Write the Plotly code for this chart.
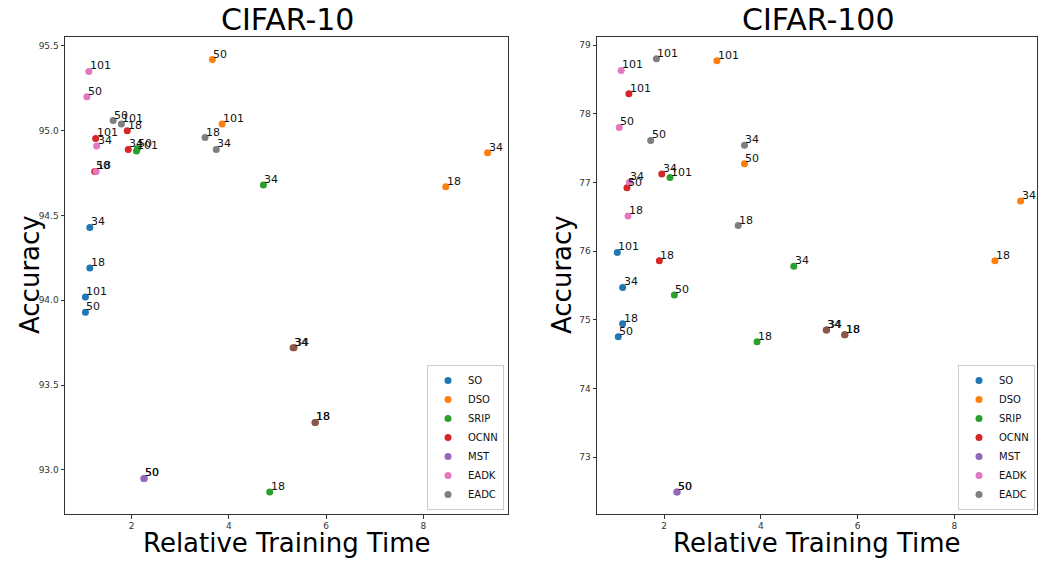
import plotly.graph_objects as go

# ---------------- data ----------------
methods = ["SO", "DSO", "SRIP", "OCNN", "MST", "EADK", "EADC"]
colors = {"SO": "#1f77b4", "DSO": "#ff7f0e", "SRIP": "#2ca02c", "OCNN": "#d62728",
          "MST": "#9467bd", "EXTRA": "#8c564b", "EADK": "#e377c2", "EADC": "#7f7f7f"}

# CIFAR-10: relative training time, accuracy, depth label
c10_time = {
    "SO":   [1.14, 1.14, 1.05, 1.05],
    "DSO":  [8.46, 9.32, 3.66, 3.86],
    "SRIP": [4.84, 4.71, 2.12, 2.10],
    "OCNN": [1.91, 1.93, 1.24, 1.26],
    "MST":  [2.25, 2.26],
    "EXTRA": [5.32, 5.34, 5.77, 5.78],
    "EADK": [1.27, 1.28, 1.08, 1.12],
    "EADC": [3.51, 3.74, 1.62, 1.79],
}
c10_acc = {
    "SO":   [94.19, 94.43, 93.93, 94.02],
    "DSO":  [94.67, 94.87, 95.42, 95.04],
    "SRIP": [92.87, 94.68, 94.895, 94.88],
    "OCNN": [95.00, 94.89, 94.76, 94.955],
    "MST":  [92.95, 92.95],
    "EXTRA": [93.72, 93.72, 93.28, 93.28],
    "EADK": [94.76, 94.91, 95.20, 95.35],
    "EADC": [94.96, 94.89, 95.06, 95.04],
}
c10_depth = {
    "SO":   ["18", "34", "50", "101"],
    "DSO":  ["18", "34", "50", "101"],
    "SRIP": ["18", "34", "50", "101"],
    "OCNN": ["18", "34", "50", "101"],
    "MST":  ["50", "50"],
    "EXTRA": ["34", "34", "18", "18"],
    "EADK": ["18", "34", "50", "101"],
    "EADC": ["18", "34", "50", "101"],
}

# CIFAR-100
c100_time = {
    "SO":   [1.14, 1.14, 1.05, 1.03],
    "DSO":  [8.84, 9.37, 3.66, 3.09],
    "SRIP": [3.92, 4.68, 2.21, 2.12],
    "OCNN": [1.90, 1.95, 1.23, 1.27],
    "MST":  [2.26, 2.27],
    "EXTRA": [5.35, 5.36, 5.73, 5.74],
    "EADK": [1.25, 1.28, 1.07, 1.11],
    "EADC": [3.53, 3.66, 1.72, 1.84],
}
c100_acc = {
    "SO":   [74.94, 75.47, 74.75, 75.98],
    "DSO":  [75.86, 76.73, 77.27, 78.77],
    "SRIP": [74.68, 75.78, 75.36, 77.07],
    "OCNN": [75.86, 77.12, 76.92, 78.29],
    "MST":  [72.49, 72.49],
    "EXTRA": [74.85, 74.85, 74.78, 74.78],
    "EADK": [76.51, 77.00, 77.80, 78.63],
    "EADC": [76.37, 77.54, 77.61, 78.80],
}
c100_depth = c10_depth

titles = ["CIFAR-10", "CIFAR-100"]
x_label = "Relative Training Time"
y_label = "Accuracy"

# ---------------- figure ----------------
FONT = "DejaVu Sans"
fig = go.Figure()
annotations = []

plot_order = ["SO", "DSO", "SRIP", "OCNN", "MST", "EXTRA", "EADK", "EADC"]
panels = [("x", "y", "legend", c10_time, c10_acc, c10_depth),
          ("x2", "y2", "legend2", c100_time, c100_acc, c100_depth)]

for xa, ya, leg, T, A, D in panels:
    for m in plot_order:
        fig.add_trace(go.Scatter(
            x=T[m], y=A[m], mode="markers", name=m,
            marker=dict(color=colors[m], size=7, line=dict(width=0)),
            xaxis=xa, yaxis=ya, legend=leg,
            showlegend=(m in methods),
            hoverinfo="skip",
        ))
        for xv, yv, lab in zip(T[m], A[m], D[m]):
            annotations.append(dict(
                x=xv, y=yv, xref=xa, yref=ya, text=lab, showarrow=False,
                xanchor="left", yanchor="bottom", yshift=-3, xshift=-1,
                font=dict(family=FONT, size=11, color="#111"),
            ))

dom_y = [1 - 514 / 561, 1 - 37 / 561]
dom_x1 = [65 / 1039, 508 / 1039]
dom_x2 = [597 / 1039, 1037 / 1039]

axis_common = dict(showgrid=False, zeroline=False, showline=True, mirror=True,
                   linecolor="#333", linewidth=1, ticks="outside", ticklen=3.5,
                   tickcolor="#333", tickfont=dict(family=FONT, size=9, color="#333"))

fig.update_layout(
    xaxis=dict(domain=dom_x1, anchor="y", range=[0.63, 9.74], tick0=0, dtick=2, **axis_common),
    yaxis=dict(domain=dom_y, anchor="x", range=[92.74, 95.553], tick0=93, dtick=0.5,
               tickformat=".1f", **axis_common),
    xaxis2=dict(domain=dom_x2, anchor="y2", range=[0.61, 9.71], tick0=0, dtick=2, **axis_common),
    yaxis2=dict(domain=dom_y, anchor="x2", range=[72.17, 79.117], tick0=73, dtick=1, **axis_common),
)

legend_common = dict(bgcolor="white", bordercolor="#cccccc", borderwidth=1,
                     font=dict(family=FONT, size=10, color="#111"),
                     yanchor="bottom", xanchor="right", y=1 - 510 / 561)
fig.update_layout(
    legend=dict(x=504 / 1039, **legend_common),
    legend2=dict(x=1035 / 1039, **legend_common),
)

# titles & axis titles
for cx, title in zip([287, 818], titles):
    annotations.append(dict(x=cx / 1039, y=1 - 20 / 561, xref="paper", yref="paper",
                            text=title, showarrow=False, xanchor="center", yanchor="middle",
                            font=dict(family=FONT, size=30, color="#000")))
for cx in [(65 + 508) / 2, (597 + 1037) / 2]:
    annotations.append(dict(x=cx / 1039, y=1 - 543 / 561, xref="paper", yref="paper",
                            text=x_label, showarrow=False, xanchor="center", yanchor="middle",
                            font=dict(family=FONT, size=26, color="#000")))
for cx in [30, 562]:
    annotations.append(dict(x=cx / 1039, y=1 - 275 / 561, xref="paper", yref="paper",
                            text=y_label, showarrow=False, textangle=-90,
                            xanchor="center", yanchor="middle",
                            font=dict(family=FONT, size=26, color="#000")))

fig.update_layout(
    width=1039, height=561,
    margin=dict(l=0, r=0, t=0, b=0),
    paper_bgcolor="white", plot_bgcolor="white",
    annotations=annotations,
    font=dict(family=FONT),
)

fig.write_html("out.html")
